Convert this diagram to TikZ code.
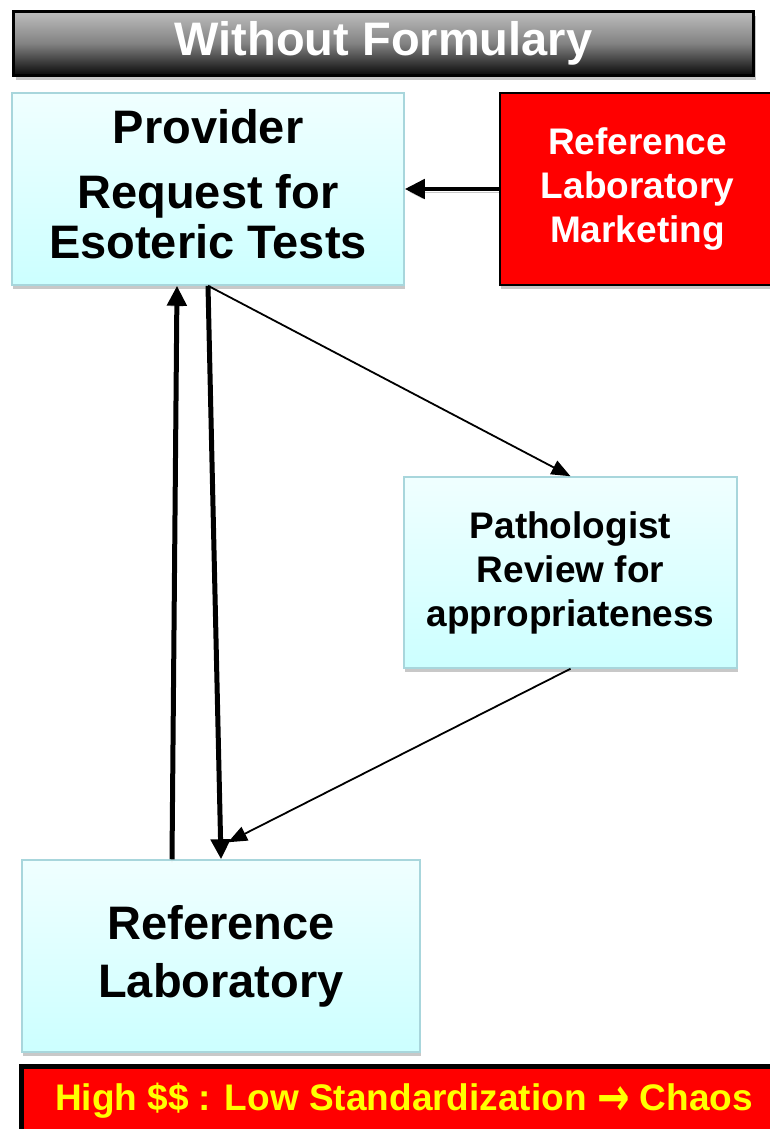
\documentclass[tikz,border=0pt]{standalone}
\usepackage{fontspec}
\setmainfont{Liberation Sans}
\newfontfamily\arrowfont{DejaVu Sans}
\usetikzlibrary{arrows.meta,calc,shadows}

\definecolor{boxedge}{RGB}{168,214,220}
\definecolor{cyantop}{RGB}{240,255,255}
\definecolor{cyanbot}{RGB}{204,255,255}
\definecolor{shadowgray}{RGB}{200,200,200}
\definecolor{alarmred}{RGB}{255,0,0}
\definecolor{alarmyellow}{RGB}{255,255,0}
\definecolor{headtop}{RGB}{190,190,190}
\definecolor{headmid}{RGB}{130,130,130}
\definecolor{headbottom}{RGB}{8,8,8}

% a taller "leads to" arrow for the banner
\newcommand{\leadsarrow}{\raisebox{-5pt}{\scalebox{1.05}[1.45]{\arrowfont →}}}

\begin{document}
\begin{tikzpicture}[x=1pt,y=-1pt,
  boxshadow/.style={drop shadow={shadow xshift=1pt,shadow yshift=-4pt,fill=shadowgray,opacity=1}},
  cyanbox/.style={rectangle, draw=boxedge, line width=1.5pt,
    top color=cyantop, bottom color=cyanbot, boxshadow,
    align=center, inner sep=0pt, text=black},
  redbox/.style={rectangle, draw=black, line width=2.5pt, fill=alarmred,
    boxshadow, align=center, inner sep=0pt, text=white},
  bigtext/.style={font=\fontsize{47}{50}\selectfont\bfseries},
  midtext/.style={font=\fontsize{37}{44}\selectfont\bfseries},
  boldflow/.style={line width=5pt, -{Triangle[length=20pt,width=19pt]}},
  thinflow/.style={line width=1.8pt, -{Triangle[length=19pt,width=15pt]}},
  lineshadow/.style={preaction={draw=shadowgray, transform canvas={yshift=-3pt}}}
]
\useasboundingbox (0,0) rectangle (769,1129);

% title bar
\node (title) [rectangle, draw=black, line width=3pt,
  top color=headtop, bottom color=headbottom, middle color=headmid,
  drop shadow={shadow xshift=2pt,shadow yshift=-5pt,fill=shadowgray,opacity=1},
  minimum width=740pt, minimum height=64pt, inner sep=0pt,
  text=white, bigtext] at (383.5,43.5) {Without Formulary};

% boxes
\node (prov) [cyanbox, bigtext, minimum width=392pt, minimum height=192pt]
  at (208,189) {Provider\\[15pt]Request for\\Esoteric Tests\rule[-10pt]{0pt}{0pt}};
\node (mkt) [redbox, midtext, minimum width=275pt, minimum height=192pt]
  at (637.5,189) {Reference\\Laboratory\\Marketing};
\node (path) [cyanbox, midtext, minimum width=333pt, minimum height=191pt]
  at (570.5,572.5) {Pathologist\\Review for\\appropriateness};
\node (lab) [cyanbox, font=\fontsize{47}{58}\selectfont\bfseries,
  minimum width=398pt, minimum height=192pt]
  at (221,956) {Reference\\Laboratory};

% bottom banner
\node (banner) [rectangle, draw=black, line width=5pt, fill=alarmred,
  minimum width=766pt, minimum height=70pt, inner sep=0pt,
  text=alarmyellow, font=\fontsize{37}{44}\selectfont\bfseries]
  at (404,1101) {High \$\$ : Low Standardization \leadsarrow{} Chaos};

% flows
\coordinate (upfoot) at ($(lab.north)+(-49,0)$);
\coordinate (uptip) at ($(prov.south)+(-31,0)$);
\coordinate (reviewtip) at ($(lab.north)+(7,-17)$);

\draw[boldflow, line width=4.5pt, lineshadow] (mkt.west) -- (prov.east);
\draw[boldflow, lineshadow] (upfoot) -- (uptip);
\draw[boldflow] (prov.south) -- (lab.north);
\draw[thinflow] (prov.south) -- (path.north);
\draw[thinflow] (path.south) -- (reviewtip);
\end{tikzpicture}
\end{document}
